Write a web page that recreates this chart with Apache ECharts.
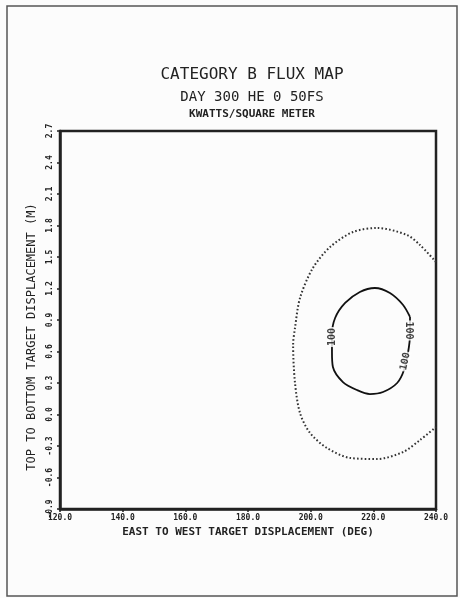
<!DOCTYPE html>
<html><head><meta charset="utf-8">
<script src="https://cdn.jsdelivr.net/npm/echarts@6/dist/echarts.min.js"></script>
<style>html,body{margin:0;padding:0;background:#fcfcfc}#c{width:460px;height:598px}</style>
</head><body><div id="c"></div>
<script>
const titleLines = ["CATEGORY B FLUX MAP", "DAY 300 HE 0 50FS", "KWATTS/SQUARE METER"];
const xTicks = [120, 140, 160, 180, 200, 220, 240];
const yTicks = [-0.9, -0.6, -0.3, 0.0, 0.3, 0.6, 0.9, 1.2, 1.5, 1.8, 2.1, 2.4, 2.7];
const xName = "EAST TO WEST TARGET DISPLACEMENT (DEG)";
const yName = "TOP TO BOTTOM TARGET DISPLACEMENT (M)";
// outer dotted contour (x deg, y m)
const outerX = [240.0, 234.9, 230.7, 221.2, 213.5, 206.2, 200.7, 196.6, 195.0, 194.4, 195.0, 196.6, 199.8, 205.2, 212.6, 221.2, 229.5, 234.9, 240.0];
const outerY = [1.452, 1.614, 1.710, 1.776, 1.738, 1.595, 1.395, 1.110, 0.824, 0.662, 0.300, 0.014, -0.176, -0.319, -0.414, -0.424, -0.357, -0.243, -0.119];
// inner solid contour, level 100
const innerX = [231.7, 229.5, 225.3, 220.5, 215.7, 211.0, 207.8, 206.8, 206.8, 207.1, 210.3, 214.8, 218.9, 223.1, 227.6, 229.8, 231.1, 231.7, 231.7];
const innerY = [0.929, 1.043, 1.157, 1.205, 1.167, 1.062, 0.919, 0.757, 0.595, 0.452, 0.309, 0.233, 0.195, 0.214, 0.300, 0.424, 0.595, 0.757, 0.929];
// contour labels
const labelText = ["100", "100", "100"];
const labelX = [206.8, 231.1, 230.2];
const labelY = [0.738, 0.800, 0.505];
const labelRot = [90, -90, 78];

const font = "DejaVu Sans Mono";
const zip = (a, b) => a.map((v, i) => [v, b[i]]);
const chart = echarts.init(document.getElementById('c'), null, {renderer: 'canvas'});
chart.setOption({
  backgroundColor: '#fcfcfc',
  animation: false,
  title: [
    {text: titleLines[0], left: 247, top: 62, textAlign: 'center', textStyle: {fontFamily: font, fontSize: 16, fontWeight: 'normal', color: '#222'}},
    {text: titleLines[1], left: 247, top: 85, textAlign: 'center', textStyle: {fontFamily: font, fontSize: 14, fontWeight: 'normal', color: '#222'}},
    {text: titleLines[2], left: 247, top: 104, textAlign: 'center', textStyle: {fontFamily: font, fontSize: 11, fontWeight: 'bold', color: '#222'}}
  ],
  graphic: [{type: 'rect', shape: {x: 7, y: 6, width: 450, height: 590}, style: {fill: 'none', stroke: '#555', lineWidth: 1.5}, z: -1}],
  grid: {left: 60, right: 24, top: 131, bottom: 89, show: true, borderColor: '#222', borderWidth: 2.5, backgroundColor: 'transparent'},
  xAxis: {
    type: 'value', min: xTicks[0], max: xTicks[xTicks.length - 1], interval: 20,
    name: xName, nameLocation: 'middle', nameGap: 17,
    nameTextStyle: {fontFamily: font, fontSize: 11, fontWeight: 'bold', color: '#222'},
    axisLine: {onZero: false, lineStyle: {color: '#222', width: 2.5}},
    axisTick: {show: true, length: 3, lineStyle: {color: '#222', width: 1.5}},
    splitLine: {show: false},
    axisLabel: {formatter: v => v.toFixed(1), fontFamily: font, fontSize: 8, fontWeight: 'bold', color: '#222', margin: 5, showMinLabel: true, showMaxLabel: true}
  },
  yAxis: {
    type: 'value', min: yTicks[0], max: yTicks[yTicks.length - 1], interval: 0.3,
    name: yName, nameLocation: 'middle', nameGap: 15, nameRotate: 90,
    nameTextStyle: {fontFamily: font, fontSize: 12, fontWeight: 'normal', color: '#222', padding: [0, 34, 0, 0]},
    axisLine: {onZero: false, lineStyle: {color: '#222', width: 2.5}},
    axisTick: {show: true, length: 3, lineStyle: {color: '#222', width: 1.5}},
    splitLine: {show: false},
    axisLabel: {formatter: v => (Math.abs(v) < 1e-9 ? 0 : v).toFixed(1), rotate: 90, fontFamily: font, fontSize: 8, fontWeight: 'bold', color: '#222', margin: 6, showMinLabel: true, showMaxLabel: true}
  },
  series: [
    {type: 'line', data: zip(outerX, outerY), smooth: 0.3, symbol: 'none', clip: true,
     lineStyle: {color: '#333', width: 2, type: [1.6, 2.2]}, z: 2},
    {type: 'line', data: zip(innerX, innerY), smooth: 0.3, symbol: 'none', clip: true,
     lineStyle: {color: '#111', width: 1.8}, z: 2},
    {type: 'scatter', data: labelX.map((x, i) => ({value: [x, labelY[i]], label: {rotate: labelRot[i], formatter: labelText[i]}})),
     symbolSize: 0, z: 5,
     label: {show: true, position: 'inside', fontFamily: font, fontSize: 10, fontWeight: 'bold', color: '#111', backgroundColor: '#fcfcfc', padding: [0, 1]}}
  ]
});
</script></body></html>
